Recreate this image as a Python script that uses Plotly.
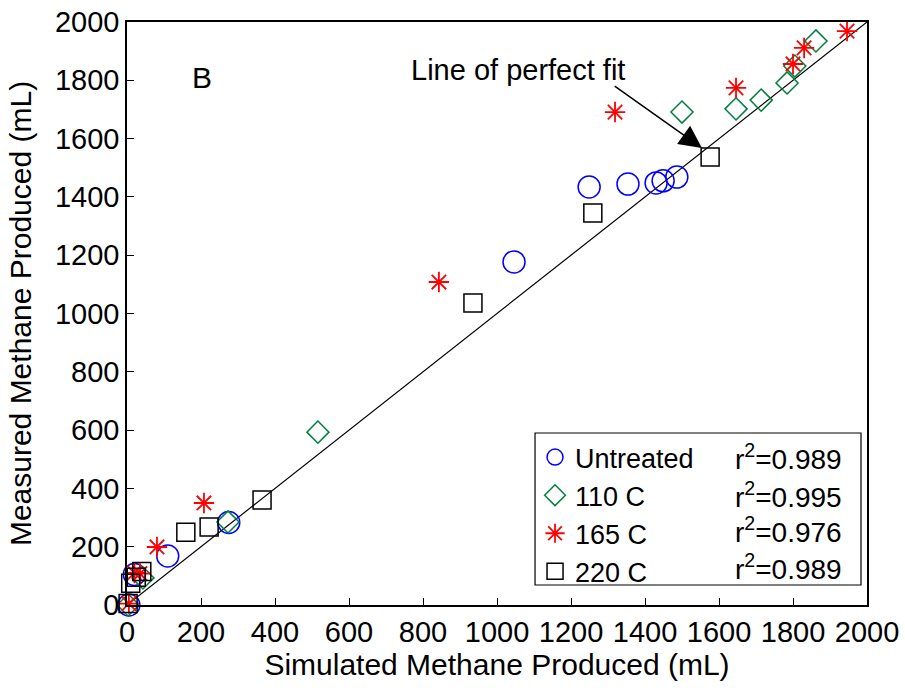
import plotly.graph_objects as go

# ---- data ----
untreated_x = [5, 20, 110, 275, 1046, 1249, 1354, 1430, 1449, 1486]
untreated_y = [0, 105, 168, 283, 1177, 1434, 1444, 1448, 1455, 1468]

c110_x = [3, 43, 273, 516, 1500, 1646, 1714, 1784, 1805, 1862]
c110_y = [0, 93, 285, 593, 1691, 1702, 1732, 1791, 1849, 1935]

c165_x = [5, 20, 35, 81, 208, 843, 1319, 1646, 1800, 1830, 1946]
c165_y = [5, 110, 108, 199, 350, 1108, 1691, 1774, 1856, 1911, 1969]

c220_x = [3, 10, 25, 40, 159, 222, 365, 935, 1259, 1576]
c220_y = [5, 75, 95, 115, 250, 268, 360, 1036, 1345, 1537]

fit_x = [0, 2000]
fit_y = [0, 2000]

series_names = ["Untreated", "110 C", "165 C", "220 C"]
r2_values = ["0.989", "0.995", "0.976", "0.989"]
tick_vals = list(range(0, 2001, 200))

FONT = "Liberation Sans, Arial, sans-serif"

fig = go.Figure()
fig.add_trace(go.Scatter(x=fit_x, y=fit_y, mode="lines",
                         line=dict(color="black", width=1.2),
                         showlegend=False, hoverinfo="skip"))

styles = [
    (untreated_x, untreated_y, "circle-open", 22, "#0000FF", 1.5),
    (c110_x, c110_y, "diamond-open", 17, "#008040", 1.5),
    (c165_x, c165_y, "asterisk-open", 17, "#FF0000", 1.8),
    (c220_x, c220_y, "square-open", 18, "#000000", 1.5),
]
for (xs, ys, sym, sz, col, lw), name in zip(styles, series_names):
    fig.add_trace(go.Scatter(x=xs, y=ys, mode="markers", name=name,
                             marker=dict(symbol=sym, size=sz, color=col,
                                         line=dict(color=col, width=lw)),
                             cliponaxis=False))

axis_common = dict(range=[0, 2000], tickvals=tick_vals, ticks="inside",
                   ticklen=7, tickwidth=1.2, tickcolor="black",
                   showline=True, linecolor="black", linewidth=1.5,
                   mirror=True, showgrid=False, zeroline=False,
                   automargin=False,
                   tickfont=dict(family=FONT, size=29, color="black"))

fig.update_layout(
    width=905, height=693,
    margin=dict(l=127, r=38, t=22, b=88, autoexpand=False),
    paper_bgcolor="white", plot_bgcolor="white",
    font=dict(family=FONT, color="black"),
    xaxis=dict(**axis_common, ticklabelstandoff=0,
               title=dict(text="Simulated Methane Produced (mL)",
                          font=dict(family=FONT, size=30), standoff=6)),
    yaxis=dict(**axis_common, ticklabelstandoff=0,
               title=dict(text="Measured Methane Produced (mL)",
                          font=dict(family=FONT, size=30), standoff=14)),
    legend=dict(x=0.5514, y=0.295, xanchor="left", yanchor="top",
                bgcolor="rgba(0,0,0,0)", borderwidth=0,
                font=dict(family=FONT, size=27, color="black"),
                tracegroupgap=0),
    showlegend=True,
)

# legend box
fig.add_shape(type="rect", xref="paper", yref="paper",
              x0=0.5514, x1=0.9919, y0=0.0343, y1=0.295,
              line=dict(color="black", width=1.2), fillcolor="rgba(0,0,0,0)",
              layer="above")

# r^2 column
r2_y = [0.2539, 0.1887, 0.1286, 0.0652]
for val, yy in zip(r2_values, r2_y):
    fig.add_annotation(xref="paper", yref="paper", x=0.819, y=yy,
                       xanchor="left", yanchor="middle", showarrow=False,
                       text="r<sup>2</sup>=" + val,
                       font=dict(family=FONT, size=28, color="black"))

# panel label
fig.add_annotation(x=203, y=1811, xref="x", yref="y", text="B",
                   showarrow=False, font=dict(family=FONT, size=30, color="black"))

# line of perfect fit label + arrow
fig.add_annotation(x=1057, y=1835, xref="x", yref="y",
                   text="Line of perfect fit", showarrow=False,
                   font=dict(family=FONT, size=29, color="black"))
fig.add_annotation(x=1554, y=1568, ax=1314, ay=1784, xref="x", yref="y",
                   axref="x", ayref="y", text="", showarrow=True,
                   arrowhead=2, arrowsize=3, arrowwidth=1.5,
                   arrowcolor="black")

fig.write_html("out.html")
